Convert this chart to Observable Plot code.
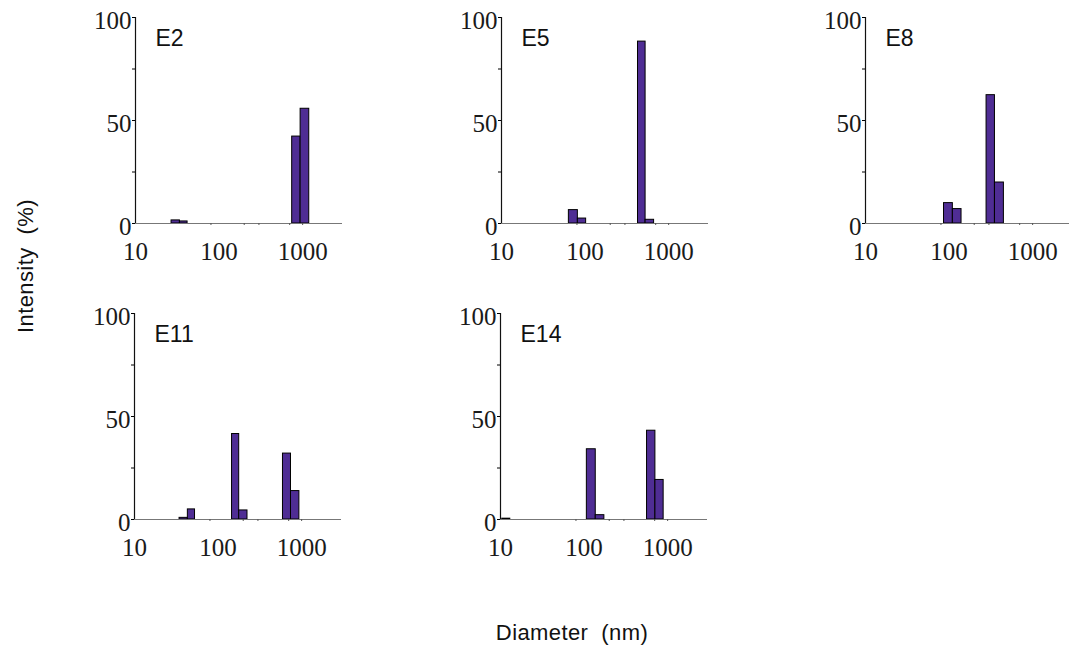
<!DOCTYPE html>
<html>
<head>
<meta charset="utf-8">
<script src="https://cdn.jsdelivr.net/npm/d3@7"></script>
<script src="https://cdn.jsdelivr.net/npm/@observablehq/plot@0.6"></script>
<style>
  html, body { margin: 0; padding: 0; background: #fff; }
  #wrap { position: relative; width: 1069px; height: 650px; overflow: hidden; background: #fff; }
  .panel { position: absolute; }
  .ylab { position: absolute; left: 26px; top: 266px; transform: translate(-50%, -50%) rotate(-90deg);
          font-family: "Liberation Sans", Arial, sans-serif; font-size: 22px; color: #111; white-space: pre; letter-spacing: 0.4px; }
  .xlab { position: absolute; left: 572px; top: 633px; transform: translate(-50%, -50%);
          font-family: "Liberation Sans", Arial, sans-serif; font-size: 22px; color: #111; white-space: pre; letter-spacing: 0.4px; }
</style>
</head>
<body>
<div id="wrap">
  <div class="ylab">Intensity  (%)</div>
  <div class="xlab">Diameter  (nm)</div>
</div>
<script>
// Sample names
const samples = ["E2", "E5", "E8", "E11", "E14"];

// Bin lower / upper edges (diameter, nm) and intensity (%) per sample
const e2Lo  = [27, 34, 750, 946];
const e2Hi  = [34, 42, 946, 1200];
const e2Val = [1.5, 1.0, 42.2, 55.7];

const e5Lo  = [64, 82, 430, 530];
const e5Hi  = [82, 103, 530, 670];
const e5Val = [6.5, 2.4, 88.3, 1.8];

const e8Lo  = [87, 111, 281, 354];
const e8Hi  = [111, 141, 354, 453];
const e8Val = [9.9, 7.0, 62.3, 19.9];

const e11Lo  = [34.6, 43.5, 147, 179, 598, 746];
const e11Hi  = [43.5, 53, 179, 225, 746, 940];
const e11Val = [0.8, 4.9, 41.5, 4.4, 32.0, 13.8];

const e14Lo  = [10.5, 108, 138, 567, 714];
const e14Hi  = [13.1, 138, 175, 714, 896];
const e14Val = [0.4, 34.1, 2.1, 43.1, 19.2];

// Tick values
const xTicks = [10, 100, 1000];
const xMinor = [80, 200, 300, 700, 1000];
const yTicks = [0, 50, 100];
const yMinor = [25, 75];

const series = [
  [e2Lo, e2Hi, e2Val],
  [e5Lo, e5Hi, e5Val],
  [e8Lo, e8Hi, e8Val],
  [e11Lo, e11Hi, e11Val],
  [e14Lo, e14Hi, e14Val]
];

// panel placement (svg left/top)
const placement = [
  {left: 80,  top: 0},
  {left: 446, top: 0},
  {left: 810, top: 0},
  {left: 79,  top: 296},
  {left: 445, top: 296}
];

const wrap = document.getElementById("wrap");
const barColor = "#4f2d94";

samples.forEach((name, i) => {
  const [lo, hi, val] = series[i];
  const data = lo.map((d, j) => ({x1: d, x2: hi[j], y: val[j]}));
  const chart = Plot.plot({
    width: 272,
    height: 268,
    marginLeft: 55,
    marginRight: 10,
    marginTop: 17,
    marginBottom: 45,
    style: {background: "transparent", overflow: "visible"},
    x: {type: "log", domain: [10, 3000], label: null},
    y: {domain: [0, 100], label: null},
    marks: [
      Plot.rectY(data, {x1: "x1", x2: "x2", y1: 0, y2: "y", fill: barColor, stroke: "#000", strokeWidth: 1}),
      Plot.ruleY([0], {stroke: "#777", strokeWidth: 1.2}),
      Plot.ruleX([10], {stroke: "#111", strokeWidth: 1.2}),
      Plot.axisX({ticks: xTicks, tickSize: 0, tickPadding: 19, tickFormat: d => String(d),
        fontSize: 25, fontFamily: "Liberation Serif, serif", fill: "#1a1a1a", label: null,
        style: {letterSpacing: "1px"}}),
      Plot.axisX({ticks: xMinor, tickSize: 2, tickFormat: () => "", stroke: "#555", label: null}),
      Plot.axisY({ticks: yTicks, tickSize: 0, tickPadding: 4, tickFormat: d => String(d), dy: 3,
        fontSize: 25, fontFamily: "Liberation Serif, serif", fill: "#1a1a1a", label: null}),
      Plot.axisY({ticks: yTicks.concat(yMinor), tickSize: 3, tickFormat: () => "", label: null}),
      Plot.text([name], {frameAnchor: "top-left", dx: 20, dy: 12, text: d => d,
        fontSize: 23, fontFamily: "Liberation Sans, Arial, sans-serif", fill: "#111", textAnchor: "start"})
    ]
  });
  chart.classList.add("panel");
  chart.style.left = placement[i].left + "px";
  chart.style.top = placement[i].top + "px";
  chart.style.position = "absolute";
  wrap.appendChild(chart);
});
</script>
</body>
</html>
